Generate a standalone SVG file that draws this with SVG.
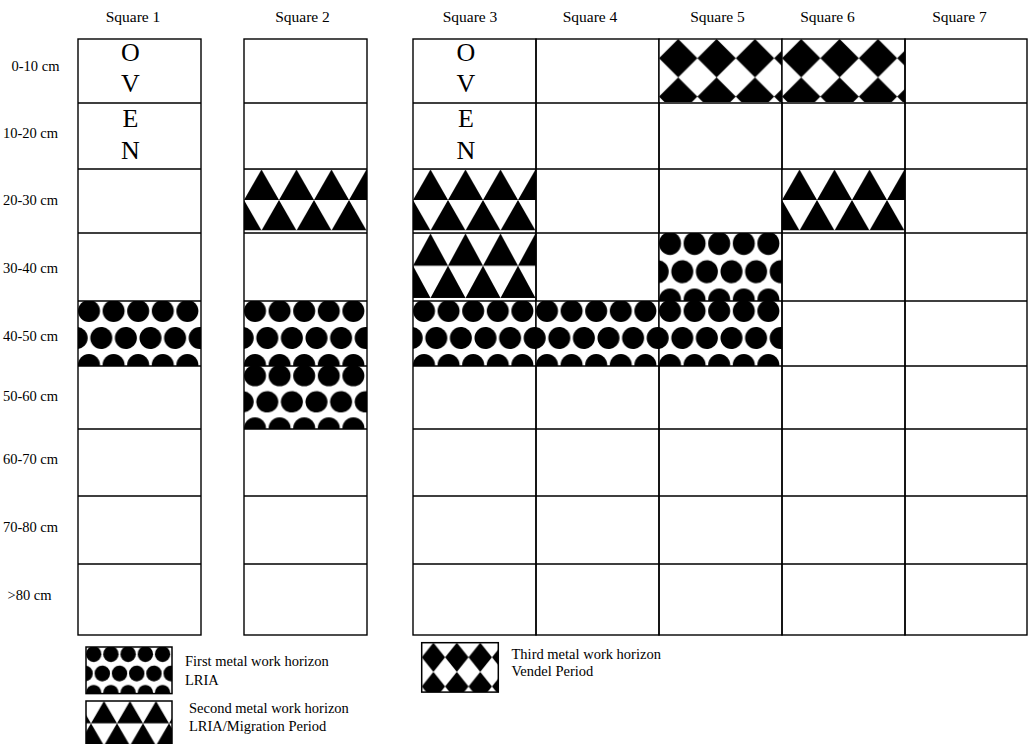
<svg xmlns="http://www.w3.org/2000/svg" width="1028" height="744" viewBox="0 0 1028 744">
<style>
  .t{font-family:"Liberation Serif","Times New Roman",serif;fill:#000}
  .sq{font-size:15.5px;text-anchor:middle}
  .dep{font-size:14.5px;text-anchor:middle}
  .oven{font-size:26px;text-anchor:middle}
  .leg{font-size:14.5px}
  .cell{fill:none;stroke:#000;stroke-width:1.4}
  .box{fill:none;stroke:#000;stroke-width:1.5}
</style>
<defs>
  <pattern id="dots" patternUnits="userSpaceOnUse" width="24.6" height="54">
    <rect width="24.6" height="54" fill="#fff"/>
    <circle cx="11" cy="10" r="11"/>
    <circle cx="11" cy="64" r="11"/>
    <circle cx="-1.3" cy="37" r="11"/>
    <circle cx="23.3" cy="37" r="11"/>
  </pattern>
  <pattern id="tri" patternUnits="userSpaceOnUse" width="35" height="62">
    <rect width="35" height="62" fill="#fff"/>
    <path d="M0 31L17.5 0L35 31ZM0 31L17.5 62L0 62ZM35 31L35 62L17.5 62Z"/>
  </pattern>
  <pattern id="dia" patternUnits="userSpaceOnUse" width="38.4" height="38.4">
    <rect width="38.4" height="38.4" fill="#fff"/>
    <path d="M0 19.2L19.2 0L38.4 19.2L19.2 38.4Z"/>
  </pattern>
</defs>

<rect width="1028" height="744" fill="#fff"/>

<!-- depth labels -->
<g id="depth-labels" class="t dep">
  <text x="35.5" y="71">0-10 cm</text>
  <text x="30.5" y="138">10-20 cm</text>
  <text x="30.5" y="205">20-30 cm</text>
  <text x="30.5" y="273">30-40 cm</text>
  <text x="30.5" y="341">40-50 cm</text>
  <text x="30.5" y="401">50-60 cm</text>
  <text x="30.5" y="464">60-70 cm</text>
  <text x="30.5" y="532">70-80 cm</text>
  <text x="29.5" y="600">&gt;80 cm</text>
</g>

<!-- Square 1 -->
<g id="square-1">
  <text class="t sq" x="133" y="22">Square 1</text>
  <rect x="0" y="0" width="123" height="65" fill="url(#dots)" transform="translate(78,301)"/>
  <rect class="cell" x="78" y="39" width="123" height="596"/>
  <path class="cell" d="M78 103H201M78 169H201M78 233H201M78 301H201M78 366H201M78 429H201M78 496H201M78 564H201"/>
  <g class="t oven">
    <text x="130.5" y="60.5">O</text>
    <text x="130.5" y="92">V</text>
    <text x="130.5" y="127">E</text>
    <text x="130.5" y="159">N</text>
  </g>
</g>

<!-- Square 2 -->
<g id="square-2">
  <text class="t sq" x="302.5" y="22">Square 2</text>
  <rect x="0" y="0" width="123" height="62" fill="url(#tri)" transform="translate(244,169.5) scale(1,0.984)"/>
  <rect x="0" y="0" width="123" height="65" fill="url(#dots)" transform="translate(244,301)"/>
  <rect x="0" y="0" width="123" height="65" fill="url(#dots)" transform="translate(244,366) scale(1,0.969)"/>
  <rect class="cell" x="244" y="39" width="123" height="596"/>
  <path class="cell" d="M244 103H367M244 169H367M244 233H367M244 301H367M244 366H367M244 429H367M244 496H367M244 564H367"/>
</g>

<!-- Square 3 -->
<g id="square-3">
  <text class="t sq" x="470" y="22">Square 3</text>
  <rect x="0" y="0" width="123" height="62" fill="url(#tri)" transform="translate(413,169.5) scale(1,0.984)"/>
  <rect x="0" y="0" width="123" height="62" fill="url(#tri)" transform="translate(413,233.5) scale(1,1.04)"/>
  <rect x="0" y="0" width="123" height="65" fill="url(#dots)" transform="translate(413,301)"/>
  <rect class="cell" x="413" y="39" width="123" height="596"/>
  <path class="cell" d="M413 103H536M413 169H536M413 233H536M413 301H536M413 366H536M413 429H536M413 496H536M413 564H536"/>
  <g class="t oven">
    <text x="466" y="60.5">O</text>
    <text x="466" y="92">V</text>
    <text x="466" y="127">E</text>
    <text x="466" y="159">N</text>
  </g>
</g>

<!-- Square 4 -->
<g id="square-4">
  <text class="t sq" x="590" y="22">Square 4</text>
  <rect x="0" y="0" width="123" height="65" fill="url(#dots)" transform="translate(536,301)"/>
  <rect class="cell" x="536" y="39" width="123" height="596"/>
  <path class="cell" d="M536 103H659M536 169H659M536 233H659M536 301H659M536 366H659M536 429H659M536 496H659M536 564H659"/>
</g>

<!-- Square 5 -->
<g id="square-5">
  <text class="t sq" x="717.5" y="22">Square 5</text>
  <rect x="0" y="0" width="123" height="63" fill="url(#dia)" transform="translate(659,39)"/>
  <rect x="0" y="0" width="123" height="65" fill="url(#dots)" transform="translate(659,233) scale(1,1.046)"/>
  <rect x="0" y="0" width="123" height="65" fill="url(#dots)" transform="translate(659,301)"/>
  <rect class="cell" x="659" y="39" width="123" height="596"/>
  <path class="cell" d="M659 103H782M659 169H782M659 233H782M659 301H782M659 366H782M659 429H782M659 496H782M659 564H782"/>
</g>

<!-- Square 6 -->
<g id="square-6">
  <text class="t sq" x="827.5" y="22">Square 6</text>
  <rect x="0" y="0" width="123" height="63" fill="url(#dia)" transform="translate(782,39)"/>
  <rect x="0" y="0" width="123" height="62" fill="url(#tri)" transform="translate(782,169.5) scale(1,0.984)"/>
  <rect class="cell" x="782" y="39" width="123" height="596"/>
  <path class="cell" d="M782 103H905M782 169H905M782 233H905M782 301H905M782 366H905M782 429H905M782 496H905M782 564H905"/>
</g>

<!-- Square 7 -->
<g id="square-7">
  <text class="t sq" x="959.5" y="22">Square 7</text>
  <rect class="cell" x="905" y="39" width="122" height="596"/>
  <path class="cell" d="M905 103H1027M905 169H1027M905 233H1027M905 301H1027M905 366H1027M905 429H1027M905 496H1027M905 564H1027"/>
</g>

<!-- Legend -->
<g id="legend-first">
  <rect x="0" y="0" width="123" height="65" fill="url(#dots)" transform="translate(86,647) scale(0.7,0.717)"/>
  <rect class="box" x="86" y="647" width="86" height="46.6"/>
  <text class="t leg" x="185" y="666">First metal work horizon</text>
  <text class="t leg" x="185" y="685">LRIA</text>
</g>
<g id="legend-second">
  <rect x="-6.7" y="0" width="115.7" height="62" fill="url(#tri)" transform="translate(91,701) scale(0.743,0.72)"/>
  <rect class="box" x="86" y="701" width="86" height="44.6"/>
  <text class="t leg" x="189" y="713">Second metal work horizon</text>
  <text class="t leg" x="189" y="731">LRIA/Migration Period</text>
</g>
<g id="legend-third">
  <rect x="0" y="0" width="125.6" height="65" fill="url(#dia)" transform="translate(421.7,642.7) scale(0.61,0.76)"/>
  <rect class="box" x="421.7" y="642.7" width="76.6" height="49.4"/>
  <text class="t leg" x="511.5" y="658.5">Third metal work horizon</text>
  <text class="t leg" x="511.5" y="676">Vendel Period</text>
</g>
</svg>
